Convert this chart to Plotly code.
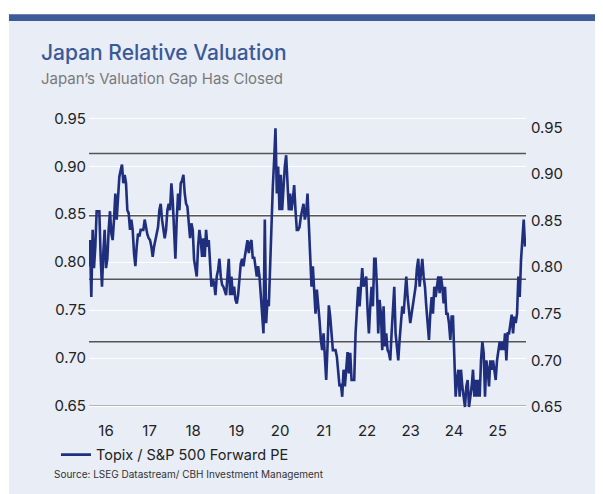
import pandas as pd
import plotly.graph_objects as go

# Topix / S&P 500 forward PE ratio, Aug 2015 -> Aug 2025
ratio_2015_17 = [
    0.801, 0.829, 0.768, 0.840, 0.799, 0.822, 0.860, 0.860, 0.860, 0.811,
    0.779, 0.815, 0.840, 0.799, 0.809, 0.840, 0.860, 0.836, 0.829, 0.851,
    0.879, 0.851, 0.876, 0.897, 0.904, 0.910, 0.890, 0.899, 0.890, 0.861,
    0.858, 0.840, 0.851, 0.840, 0.815, 0.801, 0.822, 0.836, 0.833, 0.840,
    0.840, 0.840, 0.851, 0.840, 0.835, 0.831, 0.829, 0.822, 0.811, 0.822,
    0.829, 0.835, 0.843, 0.861, 0.868, 0.851, 0.843, 0.831, 0.840, 0.861,
    0.868, 0.861, 0.890, 0.872, 0.840,
]
ratio_2017_19 = [
    0.809, 0.851, 0.879, 0.861, 0.890, 0.893, 0.899, 0.879, 0.868, 0.865,
    0.851, 0.831, 0.847, 0.840, 0.808, 0.799, 0.790, 0.822, 0.840, 0.829,
    0.811, 0.831, 0.811, 0.840, 0.822, 0.829, 0.808, 0.779, 0.787, 0.783,
    0.770, 0.790, 0.797, 0.809, 0.790, 0.781, 0.779, 0.774, 0.770, 0.790,
    0.809, 0.770, 0.790, 0.770, 0.779, 0.765, 0.761, 0.770, 0.790, 0.804,
    0.809, 0.801, 0.811, 0.820, 0.829, 0.815, 0.826, 0.829, 0.809, 0.811,
    0.801, 0.790, 0.801, 0.790, 0.770, 0.750,
]
ratio_2019_21 = [
    0.729, 0.851, 0.740, 0.765, 0.758, 0.801, 0.858, 0.886, 0.915, 0.949,
    0.879, 0.908, 0.861, 0.899, 0.861, 0.886, 0.908, 0.920, 0.886, 0.861,
    0.879, 0.861, 0.872, 0.888, 0.861, 0.840, 0.840, 0.843, 0.854, 0.861,
    0.868, 0.851, 0.858, 0.879, 0.840, 0.808, 0.779, 0.801, 0.772, 0.750,
    0.776, 0.761, 0.743, 0.722, 0.711, 0.729, 0.708, 0.679, 0.715, 0.759,
    0.747, 0.725, 0.711, 0.711, 0.711, 0.704, 0.686, 0.672, 0.675, 0.661,
    0.690, 0.672, 0.690, 0.709, 0.686, 0.708,
]
ratio_2021_23 = [
    0.679, 0.679, 0.679, 0.729, 0.750, 0.779, 0.758, 0.779, 0.799, 0.779,
    0.786, 0.790, 0.754, 0.729, 0.758, 0.779, 0.758, 0.809, 0.809, 0.779,
    0.729, 0.765, 0.750, 0.711, 0.758, 0.715, 0.729, 0.711, 0.708, 0.700,
    0.729, 0.750, 0.779, 0.729, 0.711, 0.700, 0.722, 0.736, 0.758, 0.750,
    0.768, 0.790, 0.768, 0.750, 0.740, 0.750, 0.761, 0.768, 0.779, 0.799,
    0.809, 0.779, 0.799, 0.809, 0.790, 0.779, 0.758, 0.740, 0.722, 0.750,
    0.768, 0.750, 0.779, 0.768, 0.779, 0.790,
]
ratio_2023_25 = [
    0.772, 0.790, 0.779, 0.761, 0.779, 0.750, 0.750, 0.740, 0.722, 0.747,
    0.747, 0.708, 0.661, 0.679, 0.690, 0.661, 0.690, 0.672, 0.661, 0.650,
    0.672, 0.679, 0.650, 0.661, 0.672, 0.690, 0.661, 0.679, 0.661, 0.679,
    0.661, 0.700, 0.720, 0.708, 0.661, 0.700, 0.690, 0.672, 0.700, 0.690,
    0.700, 0.690, 0.679, 0.700, 0.708, 0.720, 0.711, 0.720, 0.711, 0.729,
    0.700, 0.729, 0.729, 0.740, 0.749, 0.729, 0.747, 0.740, 0.750, 0.790,
    0.768, 0.808, 0.829, 0.851, 0.822,
]
ratio = ratio_2015_17 + ratio_2017_19 + ratio_2019_21 + ratio_2021_23 + ratio_2023_25
dates = pd.date_range("2015-08-08", "2025-08-19", periods=len(ratio))

years = list(range(2016, 2026))
year_labels = ["16", "17", "18", "19", "20", "21", "22", "23", "24", "25"]
y_ticks = [0.65, 0.70, 0.75, 0.80, 0.85, 0.90, 0.95]
# horizontal reference lines (average and +/- standard deviation bands)
band_levels = [0.720, 0.787, 0.855, 0.922]

panel = "#e8edf6"
navy = "#1f2f7d"
tick_font = dict(family="Inter", size=15, color="#222222")

fig = go.Figure()
fig.add_trace(go.Scatter(x=dates, y=ratio, mode="lines", yaxis="y2",
                         name="Topix / S&P 500 Forward PE",
                         line=dict(color=navy, width=2.6)))

# background panel + top bar
fig.add_shape(type="rect", xref="paper", yref="paper", x0=-0.1832, x1=1.18,
              y0=-0.275, y1=1.2947, fillcolor=panel, line_width=0, layer="below")
fig.add_shape(type="rect", xref="paper", yref="paper", x0=-0.1832, x1=1.18,
              y0=1.2947, y1=1.3169, fillcolor="#3d5a99", line_width=0, layer="below")

for lvl in band_levels:
    fig.add_shape(type="line", xref="paper", yref="y2", x0=0, x1=1, y0=lvl, y1=lvl,
                  line=dict(color="#555555", width=1.5), layer="below")
fig.add_shape(type="line", xref="paper", yref="y", x0=0, x1=1, y0=0.65, y1=0.65,
              line=dict(color="#b3b3b3", width=2), layer="below")

fig.add_annotation(text="Japan Relative Valuation", xref="paper", yref="paper",
                   x=-0.1152, y=1.192, xanchor="left", yanchor="middle", showarrow=False,
                   font=dict(family="Inter", size=21, color="#3b5998", weight=500))
fig.add_annotation(text="Japan’s Valuation Gap Has Closed", xref="paper", yref="paper",
                   x=-0.1152, y=1.105, xanchor="left", yanchor="middle", showarrow=False,
                   font=dict(family="Inter", size=15, color="#7a7a7a"))
fig.add_annotation(text="Source: LSEG Datastream/ CBH Investment Management",
                   xref="paper", yref="paper", x=-0.0855, y=-0.2066,
                   xanchor="left", yanchor="middle", showarrow=False,
                   font=dict(family="Inter", size=10, color="#333333"))

# page body keeps its default 8px margin, so the figure is 8px smaller
fig.update_layout(
    width=595, height=486,
    margin=dict(l=81, r=77, t=102, b=82, autoexpand=False),
    paper_bgcolor="white",
    plot_bgcolor="rgba(0,0,0,0)",
    showlegend=True,
    legend=dict(x=-0.0756, y=-0.1414, xanchor="left", yanchor="middle",
                orientation="h", bgcolor="rgba(0,0,0,0)", itemwidth=30,
                font=dict(family="Inter", size=14.5, color="#222222")),
    xaxis=dict(type="date", range=["2015-08-11", "2025-08-27"],
               tickvals=[pd.Timestamp(year=y, month=1, day=1) for y in years],
               ticktext=year_labels, showgrid=False, zeroline=False, ticks="",
               tickfont=tick_font, ticklabelstandoff=8),
    yaxis=dict(range=[0.64375, 0.95865], tickvals=y_ticks, tickformat=".2f",
               showgrid=True, gridcolor="white", gridwidth=1, zeroline=False,
               ticks="", tickfont=tick_font, ticklabelstandoff=2),
    yaxis2=dict(range=[0.64464, 0.96855], tickvals=y_ticks, tickformat=".2f",
                overlaying="y", side="right", showgrid=False, zeroline=False,
                ticks="", tickfont=tick_font, ticklabelstandoff=4),
)

fig.write_html("out.html")
